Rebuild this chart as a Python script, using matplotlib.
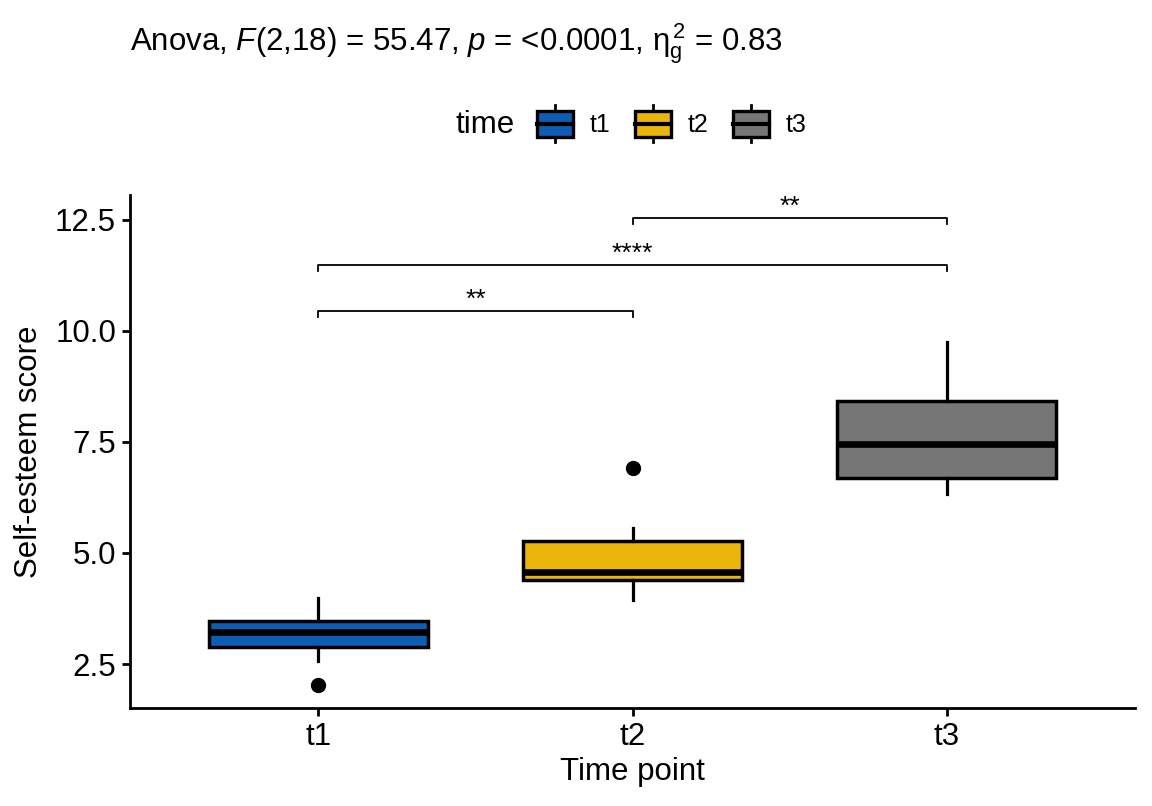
import matplotlib.pyplot as plt
from matplotlib.legend_handler import HandlerBase
from matplotlib.patches import Rectangle
from matplotlib.lines import Line2D

plt.rcParams['font.family'] = ['Liberation Sans', 'DejaVu Sans']
plt.rcParams['mathtext.fontset'] = 'custom'
plt.rcParams['mathtext.rm'] = 'Liberation Sans'
plt.rcParams['mathtext.it'] = 'Liberation Sans:italic'

# data
groups = ["t1", "t2", "t3"]
colors = ["#0D5DB5", "#EAB50B", "#767676"]
whislo = [2.57, 3.94, 6.33]
q1 = [2.88, 4.39, 6.69]
med = [3.22, 4.57, 7.45]
q3 = [3.47, 5.27, 8.42]
whishi = [3.99, 5.56, 9.75]
outliers = [[2.03], [6.91], []]

# pairwise comparisons: (group a, group b, bracket height, label)
comparisons = [
    (1, 2, 10.45, "**"),
    (1, 3, 11.49, "****"),
    (2, 3, 12.54, "**"),
]

fig = plt.figure(figsize=(11.52, 8.06), dpi=100)
ax = fig.add_axes([130 / 1152, 1 - 708 / 806, 1005 / 1152, 513 / 806])

stats = []
for i, g in enumerate(groups):
    stats.append(dict(label=g, whislo=whislo[i], q1=q1[i], med=med[i],
                      q3=q3[i], whishi=whishi[i], fliers=outliers[i]))

bp = ax.bxp(stats, positions=[1, 2, 3], widths=0.7, patch_artist=True,
            showcaps=False,
            boxprops=dict(edgecolor="black", linewidth=2.5),
            medianprops=dict(color="black", linewidth=4.8, solid_capstyle="butt"),
            whiskerprops=dict(color="black", linewidth=2.3),
            flierprops=dict(marker="o", markerfacecolor="black",
                            markeredgecolor="black", markersize=10))
for patch, c in zip(bp["boxes"], colors):
    patch.set_facecolor(c)

# significance brackets
tip = 0.13
for a, b, y, lab in comparisons:
    ax.plot([a, a, b, b], [y - tip, y, y, y - tip], color="black", lw=1.3)
    ax.text((a + b) / 2, y - 0.02, lab, ha="center", va="bottom", fontsize=19)

ax.set_xlim(0.4, 3.6)
ax.set_ylim(1.51, 13.06)
ax.set_yticks([2.5, 5.0, 7.5, 10.0, 12.5])
ax.set_yticklabels(["2.5", "5.0", "7.5", "10.0", "12.5"])
ax.set_xticks([1, 2, 3])
ax.set_xticklabels(groups)
ax.tick_params(labelsize=22.5, width=2, length=6, color="black", pad=4)
for s in ["top", "right"]:
    ax.spines[s].set_visible(False)
for s in ["left", "bottom"]:
    ax.spines[s].set_linewidth(2)
ax.set_xlabel("Time point", fontsize=22.5, labelpad=4)
ax.set_ylabel("Self-esteem score", fontsize=22.5, labelpad=8)

fig.text(130 / 1152, 1 - 51 / 806,
         r"Anova, $\it{F}$(2,18) = 55.47, $\it{p}$ = <0.0001, $\mathrm{\eta}_{\mathrm{g}}^{\,2}$ = 0.83",
         fontsize=22.5, ha="left", va="baseline")


class BoxHandler(HandlerBase):
    def create_artists(self, legend, orig_handle, xdescent, ydescent,
                       width, height, fontsize, trans):
        c = orig_handle.get_facecolor()
        bh = 18.5
        y0 = (height - bh) / 2 - ydescent
        x0 = -xdescent
        r = Rectangle((x0, y0), width, bh, facecolor=c, edgecolor="black",
                      lw=2.4, transform=trans)
        m = Line2D([x0, x0 + width], [y0 + bh / 2] * 2, color="black", lw=3,
                   transform=trans)
        w1 = Line2D([x0 + width / 2] * 2, [y0 + bh, y0 + bh + 4], color="black",
                    lw=2, transform=trans)
        w2 = Line2D([x0 + width / 2] * 2, [y0 - 4, y0], color="black",
                    lw=2, transform=trans)
        return [w1, w2, r, m]


handles = [Rectangle((0, 0), 1, 1, facecolor=c) for c in colors]
fig.text(455 / 1152, 1 - 125 / 806, "time", fontsize=22.5, ha="left", va="center")
fig.legend(handles, groups, loc="center left",
           bbox_to_anchor=(537 / 1152, 1 - 125 / 806), ncol=3, frameon=False,
           fontsize=18, handlelength=1.44, handleheight=1.0,
           handletextpad=0.68, columnspacing=0.96, borderpad=0, borderaxespad=0,
           handler_map={Rectangle: BoxHandler()})

fig.savefig("out.png", dpi=100)
